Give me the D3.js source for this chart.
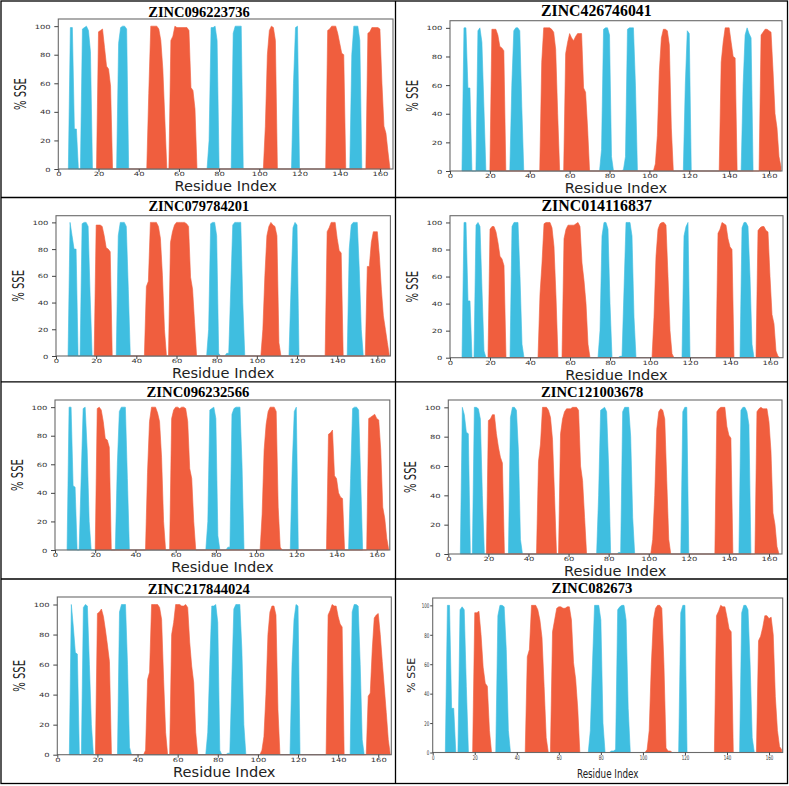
<!DOCTYPE html>
<html>
<head>
<meta charset="utf-8">
<script src="https://cdn.jsdelivr.net/npm/d3@7"></script>
<style>
  html, body { margin: 0; padding: 0; background: #ffffff; }
  svg { display: block; }
</style>
</head>
<body>
<svg id="chart" width="789" height="786"></svg>
<script>
// ---------------- DATA ----------------
const titles = ["ZINC096223736", "ZINC426746041", "ZINC079784201", "ZINC014116837",
                "ZINC096232566", "ZINC121003678", "ZINC217844024", "ZINC082673"];
const xTicks = [0, 20, 40, 60, 80, 100, 120, 140, 160];
const yTicks = [0, 20, 40, 60, 80, 100];
const xLabel = "Residue Index";
const yLabel = "% SSE";

// [residue, % SSE] — helix (red) and strand (blue)
const helix1 = [[19,0],[20,96],[21,97],[22,98],[23,85],[24,72],[25,70],[26,58],[27,0],
  [44,0],[45,53],[46,100],[47,100],[48,100],[49,100],[50,98],[51,90],[52,70],[53,35],[54,0],
  [55,0],[56,90],[57,93],[58,100],[59,99],[60,99],[61,99],[62,99],[63,99],[64,99],[65,97],[66,57],[67,55],[68,42],[69,0],
  [102,0],[103,30],[104,80],[105,97],[106,100],[107,99],[108,90],[109,0],
  [133,0],[134,97],[135,98],[136,100],[137,100],[138,100],[139,95],[140,88],[141,81],[142,80],[143,0],
  [153,0],[154,95],[155,96],[156,99],[157,99],[158,99],[159,99],[160,98],[161,60],[162,30],[163,25],[164,12],[165,0]];
const strand1 = [[5,0],[6,99],[7,99],[8,28],[9,28],[10,0],
  [11,0],[12,98],[13,99],[14,100],[15,97],[16,82],[17,0],
  [29,0],[30,88],[31,99],[32,100],[33,100],[34,98],[35,0],
  [74,0],[75,20],[76,99],[77,99],[78,100],[79,90],[80,0],
  [86,0],[87,95],[88,100],[89,100],[90,100],[91,100],[92,0],
  [116,0],[117,60],[118,99],[119,100],[120,0],
  [145,0],[146,80],[147,100],[148,100],[149,100],[150,90],[151,0]];

const helix2 = [[20,0],[21,99],[22,99],[23,99],[24,95],[25,87],[26,86],[27,84],[28,0],
  [45,0],[46,76],[47,100],[48,100],[49,100],[50,100],[51,99],[52,97],[53,85],[54,40],[55,0],
  [57,0],[58,82],[59,90],[60,96],[61,93],[62,91],[63,94],[64,96],[65,96],[66,96],[67,58],[68,55],[69,30],[70,0],
  [102,0],[103,5],[104,25],[105,70],[106,93],[107,99],[108,99],[109,98],[110,88],[111,30],[112,0],
  [135,0],[136,76],[137,90],[138,100],[139,100],[140,100],[141,90],[142,80],[143,79],[144,0],
  [155,0],[156,95],[157,97],[158,99],[159,99],[160,98],[161,97],[162,70],[163,40],[164,30],[165,10],[166,3]];
const strand2 = [[6,0],[7,100],[8,100],[9,58],[10,58],[11,0],
  [13,0],[14,98],[15,100],[16,90],[17,45],[18,0],
  [30,0],[31,60],[32,98],[33,100],[34,100],[35,98],[36,45],[37,0],
  [75,0],[76,15],[77,99],[78,100],[79,100],[80,95],[81,10],[82,0],
  [86,0],[87,1],[88,10],[89,99],[90,100],[91,100],[92,100],[93,60],[94,0],
  [117,0],[118,60],[119,98],[120,96],[121,0],
  [146,0],[147,60],[148,95],[149,100],[150,96],[151,93],[152,0]];

const helix3 = [[19,0],[20,98],[21,98],[22,98],[23,97],[24,90],[25,81],[26,80],[27,78],[28,0],
  [44,0],[45,52],[46,56],[47,100],[48,100],[49,100],[50,100],[51,97],[52,88],[53,60],[54,20],[55,0],
  [56,0],[57,85],[58,93],[59,98],[60,100],[61,100],[62,100],[63,100],[64,100],[65,99],[66,97],[67,59],[68,50],[69,25],[70,0],
  [102,0],[103,20],[104,60],[105,90],[106,97],[107,100],[108,98],[109,97],[110,90],[111,10],[112,0],
  [134,0],[135,93],[136,96],[137,100],[138,100],[139,100],[140,88],[141,79],[142,77],[143,0],
  [154,0],[155,67],[156,67],[157,85],[158,93],[159,93],[160,93],[161,75],[162,50],[163,30],[164,20],[165,10],[166,0]];
const strand3 = [[6,0],[7,100],[8,90],[9,80],[10,80],[11,0],
  [12,0],[13,99],[14,100],[15,100],[16,97],[17,45],[18,0],
  [30,0],[31,90],[32,100],[33,100],[34,100],[35,97],[36,50],[37,0],
  [75,0],[76,20],[77,99],[78,100],[79,100],[80,90],[81,2],[82,0],
  [84,0],[85,2],[86,2],[87,50],[88,98],[89,100],[90,100],[91,100],[92,100],[93,40],[94,0],
  [116,0],[117,50],[118,96],[119,100],[120,98],[121,0],
  [145,0],[146,80],[147,98],[148,100],[149,100],[150,100],[151,65],[152,20],[153,0]];

const helix4 = [[19,0],[20,95],[21,97],[22,97],[23,93],[24,85],[25,75],[26,73],[27,68],[28,0],
  [44,0],[45,47],[46,70],[47,99],[48,100],[49,100],[50,100],[51,96],[52,82],[53,45],[54,0],
  [56,0],[57,88],[58,95],[59,98],[60,98],[61,98],[62,98],[63,99],[64,100],[65,97],[66,70],[67,57],[68,40],[69,10],[70,0],
  [101,0],[102,30],[103,75],[104,95],[105,99],[106,100],[107,100],[108,98],[109,60],[110,20],[111,3],[112,0],
  [133,0],[134,92],[135,95],[136,100],[137,99],[138,98],[139,88],[140,82],[141,80],[142,0],
  [153,0],[154,94],[155,96],[156,97],[157,97],[158,94],[159,93],[160,60],[161,32],[162,25],[163,5],[164,1],[165,0]];
const strand4 = [[6,0],[7,100],[8,100],[9,42],[10,42],[11,0],
  [12,0],[13,98],[14,100],[15,97],[16,50],[17,5],[18,0],
  [30,0],[31,97],[32,100],[33,100],[34,100],[35,60],[36,10],[37,0],
  [74,0],[75,20],[76,90],[77,100],[78,100],[79,95],[80,40],[81,0],
  [84,0],[85,1],[86,1],[87,50],[88,100],[89,100],[90,100],[91,90],[92,30],[93,0],
  [116,0],[117,90],[118,97],[119,100],[120,0],
  [145,0],[146,96],[147,100],[148,100],[149,97],[150,60],[151,10],[152,0]];

const helix5 = [[20,0],[21,99],[22,100],[23,98],[24,90],[25,78],[26,77],[27,72],[28,0],
  [45,0],[46,54],[47,90],[48,100],[49,100],[50,100],[51,96],[52,90],[53,65],[54,20],[55,0],
  [57,0],[58,92],[59,98],[60,100],[61,100],[62,99],[63,100],[64,100],[65,99],[66,90],[67,57],[68,50],[69,20],[70,0],
  [102,0],[103,25],[104,70],[105,88],[106,97],[107,100],[108,100],[109,100],[110,97],[111,30],[112,2],[113,0],
  [135,0],[136,81],[137,82],[138,84],[139,52],[140,50],[141,40],[142,37],[143,36],[144,0],
  [155,0],[156,92],[157,93],[158,94],[159,95],[160,92],[161,91],[162,70],[163,30],[164,22],[165,8],[166,0]];
const strand5 = [[6,0],[7,100],[8,100],[9,45],[10,44],[11,0],
  [12,0],[13,50],[14,99],[15,100],[16,70],[17,20],[18,0],
  [30,0],[31,60],[32,97],[33,100],[34,100],[35,100],[36,50],[37,0],
  [75,0],[76,20],[77,98],[78,99],[79,100],[80,92],[81,10],[82,0],
  [85,0],[86,2],[87,2],[88,95],[89,99],[90,100],[91,100],[92,100],[93,60],[94,0],
  [117,0],[118,60],[119,97],[120,100],[121,0],
  [146,0],[147,50],[148,99],[149,100],[150,100],[151,98],[152,50],[153,0]];

const helix6 = [[19,0],[20,91],[21,92],[22,95],[23,95],[24,82],[25,73],[26,66],[27,62],[28,0],
  [44,0],[45,63],[46,75],[47,100],[48,100],[49,100],[50,98],[51,93],[52,78],[53,40],[54,0],
  [55,0],[56,82],[57,92],[58,97],[59,99],[60,99],[61,99],[62,100],[63,100],[64,100],[65,98],[66,60],[67,50],[68,25],[69,0],
  [101,0],[102,10],[103,40],[104,85],[105,97],[106,99],[107,98],[108,92],[109,50],[110,10],[111,0],
  [133,0],[134,97],[135,99],[136,100],[137,100],[138,100],[139,87],[140,81],[141,79],[142,0],
  [153,0],[154,97],[155,99],[156,100],[157,99],[158,99],[159,99],[160,90],[161,70],[162,28],[163,20],[164,5],[165,0]];
const strand6 = [[6,0],[7,100],[8,95],[9,83],[10,82],[11,0],
  [12,0],[13,100],[14,100],[15,99],[16,92],[17,40],[18,0],
  [30,0],[31,93],[32,100],[33,100],[34,98],[35,70],[36,10],[37,0],
  [74,0],[75,40],[76,98],[77,99],[78,100],[79,97],[80,60],[81,0],
  [84,0],[85,1],[86,1],[87,97],[88,100],[89,100],[90,100],[91,80],[92,25],[93,0],
  [116,0],[117,97],[118,100],[119,100],[120,0],
  [145,0],[146,98],[147,100],[148,100],[149,97],[150,88],[151,0]];

const helix7 = [[19,0],[20,94],[21,95],[22,97],[23,92],[24,83],[25,73],[26,62],[27,0],
  [43,0],[44,3],[45,50],[46,55],[47,100],[48,100],[49,100],[50,100],[51,98],[52,90],[53,50],[54,15],[55,0],
  [56,0],[57,80],[58,88],[59,100],[60,100],[61,100],[62,99],[63,99],[64,100],[65,98],[66,75],[67,59],[68,48],[69,15],[70,0],
  [101,0],[102,3],[103,12],[104,40],[105,80],[106,95],[107,99],[108,99],[109,93],[110,30],[111,0],
  [134,0],[135,93],[136,96],[137,100],[138,99],[139,99],[140,92],[141,87],[142,85],[143,0],
  [154,0],[155,39],[156,41],[157,70],[158,91],[159,93],[160,94],[161,80],[162,62],[163,45],[164,28],[165,10],[166,0]];
const strand7 = [[6,0],[7,100],[8,85],[9,68],[10,67],[11,0],
  [12,0],[13,98],[14,100],[15,99],[16,60],[17,20],[18,0],
  [30,0],[31,95],[32,100],[33,100],[34,100],[35,60],[36,5],[37,0],
  [74,0],[75,15],[76,60],[77,99],[78,99],[79,100],[80,88],[81,3],[82,0],
  [84,0],[85,1],[86,1],[87,50],[88,97],[89,100],[90,100],[91,100],[92,70],[93,20],[94,0],
  [116,0],[117,60],[118,90],[119,100],[120,99],[121,0],
  [146,0],[147,95],[148,100],[149,100],[150,99],[151,60],[152,10],[153,0]];

const helix8 = [[19,0],[20,95],[21,95],[22,96],[23,80],[24,58],[25,47],[26,45],[27,15],[28,0],
  [44,0],[45,65],[46,70],[47,100],[48,100],[49,100],[50,97],[51,90],[52,78],[53,45],[54,10],[55,0],
  [56,0],[57,82],[58,90],[59,98],[60,99],[61,99],[62,98],[63,98],[64,99],[65,99],[66,90],[67,61],[68,50],[69,30],[70,0],
  [101,0],[102,2],[103,15],[104,60],[105,90],[106,98],[107,100],[108,100],[109,98],[110,60],[111,3],[112,1],[113,1],[114,0],
  [134,0],[135,93],[136,96],[137,100],[138,99],[139,99],[140,92],[141,84],[142,82],[143,0],
  [154,0],[155,76],[156,79],[157,85],[158,93],[159,93],[160,91],[161,92],[162,80],[163,38],[164,15],[165,4],[166,2]];
const strand8 = [[6,0],[7,100],[8,100],[9,30],[10,30],[11,0],
  [12,0],[13,97],[14,99],[15,97],[16,45],[17,0],
  [30,0],[31,93],[32,100],[33,100],[34,99],[35,70],[36,15],[37,0],
  [74,0],[75,15],[76,60],[77,100],[78,100],[79,100],[80,90],[81,20],[82,0],
  [84,0],[85,1],[86,1],[87,2],[88,97],[89,99],[90,100],[91,100],[92,90],[93,30],[94,0],
  [117,0],[118,95],[119,100],[120,100],[121,0],
  [146,0],[147,95],[148,100],[149,100],[150,97],[151,60],[152,10],[153,0]];

const helixSeries = [helix1, helix2, helix3, helix4, helix5, helix6, helix7, helix8];
const strandSeries = [strand1, strand2, strand3, strand4, strand5, strand6, strand7, strand8];

// ---------------- LAYOUT (pixels) ----------------
const layout = [
  {x0: 58.3,  x1: 393,   top: 19,    y0: 169,   tx: 199,   ty: 16.5,  tfs: 14.5},
  {x0: 450,   x1: 782,   top: 20.7,  y0: 171,   tx: 596.3, ty: 16,    tfs: 15.8},
  {x0: 56,    x1: 390.4, top: 215.7, y0: 356,   tx: 198.8, ty: 211,   tfs: 14.4},
  {x0: 450,   x1: 783,   top: 215.7, y0: 357.7, tx: 596.7, ty: 211,   tfs: 15.9},
  {x0: 55,    x1: 389.8, top: 400,   y0: 550,   tx: 198,   ty: 396.5, tfs: 14.7},
  {x0: 448.3, x1: 782,   top: 400,   y0: 554,   tx: 592.2, ty: 396.5, tfs: 14.6},
  {x0: 57.3,  x1: 391.3, top: 597,   y0: 754.7, tx: 198.8, ty: 593.7, tfs: 14.6},
  {x0: 432.7, x1: 782.7, top: 598,   y0: 752.5, tx: 592,   ty: 593.3, tfs: 14.7, alt: true}
];

const HELIX_COLOR = "#F05E3E";
const STRAND_COLOR = "#3FBEE0";
const SANS = "'DejaVu Sans', sans-serif";

const svg = d3.select("#chart");

layout.forEach((L, i) => {
  const x = d3.scaleLinear().domain([0, 166.5]).range([L.x0, L.x1]);
  const y = d3.scaleLinear().domain([0, 105]).range([L.y0, L.top]);
  const g = svg.append("g");

  const area = d3.area()
    .x(d => x(d[0]))
    .y0(y(0))
    .y1(d => y(d[1]));

  g.append("path").datum(strandSeries[i])
    .attr("d", area).attr("fill", STRAND_COLOR)
    .attr("stroke", STRAND_COLOR).attr("stroke-width", 0.6);
  g.append("path").datum(helixSeries[i])
    .attr("d", area).attr("fill", HELIX_COLOR)
    .attr("stroke", HELIX_COLOR).attr("stroke-width", 0.6);

  // frame
  g.append("rect")
    .attr("x", L.x0).attr("y", L.top)
    .attr("width", L.x1 - L.x0).attr("height", L.y0 - L.top)
    .attr("fill", "none").attr("stroke", "#6a6a6a").attr("stroke-width", 1.1);

  const alt = !!L.alt;
  const tickFs = alt ? 6.4 : 8.4;
  const sx = alt ? 0.62 : 1;
  const sy = alt ? 1 : 0.68;

  // x axis
  const xa = g.append("g").attr("transform", `translate(0,${L.y0})`)
    .call(d3.axisBottom(x).tickValues(xTicks).tickSize(alt ? 2.5 : 3).tickFormat(d3.format("d")));
  xa.select(".domain").remove();
  xa.selectAll(".tick line").attr("stroke", "#444");
  xa.selectAll(".tick text")
    .attr("dy", null)
    .attr("y", (alt ? 7.2 : 7.3) / sy)
    .attr("transform", `scale(${sx},${sy})`)
    .attr("fill", "#333")
    .style("font-family", SANS).style("font-size", tickFs + "px");

  // y axis
  const ya = g.append("g").attr("transform", `translate(${L.x0},0)`)
    .call(d3.axisLeft(y).tickValues(yTicks).tickSize(alt ? 2.5 : 4).tickFormat(d3.format("d")));
  ya.select(".domain").remove();
  ya.selectAll(".tick line").attr("stroke", "#444");
  ya.selectAll(".tick text")
    .attr("x", (alt ? -3.5 : -7.6) / sx)
    .attr("dy", "0.36em")
    .attr("transform", `scale(${sx},${sy})`)
    .attr("fill", "#333")
    .style("font-family", SANS).style("font-size", tickFs + "px");

  // title
  svg.append("text")
    .attr("x", L.tx).attr("y", L.ty)
    .attr("text-anchor", "middle")
    .style("font-family", "'Liberation Serif', 'Times New Roman', serif")
    .style("font-weight", "bold")
    .style("font-size", L.tfs + "px")
    .attr("fill", "#000")
    .text(titles[i]);

  // axis labels
  const cx = (L.x0 + L.x1) / 2;
  const cy = (L.top + L.y0) / 2;
  if (alt) {
    svg.append("text")
      .attr("transform", `translate(${cx},${L.y0 + 25.5}) scale(0.77,1)`)
      .attr("text-anchor", "middle")
      .style("font-family", SANS).style("font-size", "11.4px")
      .attr("fill", "#222").text(xLabel);
    svg.append("text")
      .attr("transform", `translate(${L.x0 - 17.5},${cy}) rotate(-90)`)
      .attr("text-anchor", "middle")
      .style("font-family", SANS).style("font-size", "11px")
      .attr("fill", "#222").text(yLabel);
  } else {
    svg.append("text")
      .attr("x", cx).attr("y", L.y0 + 22.2)
      .attr("text-anchor", "middle")
      .style("font-family", SANS).style("font-size", "14.6px")
      .attr("fill", "#222").text(xLabel);
    svg.append("text")
      .attr("transform", `translate(${L.x0 - 32.5},${cy}) rotate(-90) scale(0.67,1)`)
      .attr("text-anchor", "middle")
      .style("font-family", SANS).style("font-size", "15px")
      .attr("fill", "#222").text(yLabel);
  }
});

// table borders
const borders = svg.append("g").attr("stroke", "#000").attr("stroke-width", 1.3).attr("fill", "none");
borders.append("rect").attr("x", 1).attr("y", 1).attr("width", 786.5).attr("height", 782.5);
borders.append("line").attr("x1", 395.5).attr("x2", 395.5).attr("y1", 1).attr("y2", 783.5);
[197.5, 381.8, 579].forEach(yy => {
  borders.append("line").attr("x1", 1).attr("x2", 787.5).attr("y1", yy).attr("y2", yy);
});
</script>
</body>
</html>
